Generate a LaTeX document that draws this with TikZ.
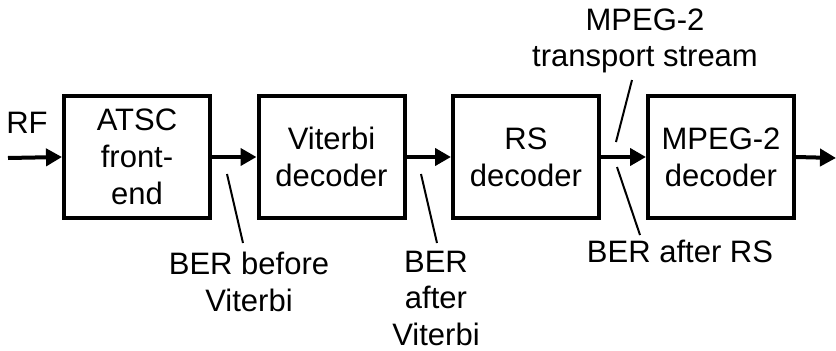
\documentclass[tikz,border=0pt]{standalone}
\usepackage{fontspec}
\setmainfont{Liberation Sans}
\usetikzlibrary{arrows.meta}
\begin{document}
\begin{tikzpicture}[x=1pt,y=-1pt,
  txt/.style={font=\fontsize{31}{37}\selectfont, align=center, inner sep=0pt},
  block/.style={draw, line width=4pt, minimum width=146pt, minimum height=122pt, txt},
  flow/.style={line width=4pt, -{Triangle[length=16pt,width=17pt]}},
  callout/.style={line width=2pt}]
\useasboundingbox (0,0) rectangle (836,351);
\node[block] (atsc) at (137,157) {ATSC\\front-\\end};
\node[block] (vit) at (331.5,157) {Viterbi\\decoder};
\node[block] (rs) at (526,157) {RS\\decoder};
\node[block] (mpeg) at (721,157) {MPEG-2\\decoder};
\coordinate (in) at (8,158);
\coordinate (out) at (836,158);
\node[txt, anchor=base] (rf) at (27,133) {RF};
\draw[flow] (in) -- (atsc.west);
\draw[flow] (atsc.east) -- (vit.west);
\draw[flow] (vit.east) -- (rs.west);
\draw[flow] (rs.east) -- (mpeg.west);
\draw[flow] (mpeg.east) -- (out);
% callouts (base anchor = baseline of the last line)
\node[txt, anchor=base] (lb1) at (249,311) {BER before\\Viterbi};
\node[txt, anchor=base, font=\fontsize{31}{36.5}\selectfont] (lb2) at (436,345) {BER\\after\\Viterbi};
\node[txt, anchor=base, font=\fontsize{31}{36}\selectfont] (lb3) at (645,66) {MPEG-2\\transport stream};
\node[txt, anchor=base] (lb4) at (680,262) {BER after RS};
\coordinate (c1a) at (227,174); \coordinate (c1b) at (243,243);
\coordinate (c2a) at (421,174); \coordinate (c2b) at (437,243);
\coordinate (c3a) at (616,142); \coordinate (c3b) at (632,80);
\coordinate (c4a) at (617,167); \coordinate (c4b) at (640,235);
\draw[callout] (c1a) -- (c1b);
\draw[callout] (c2a) -- (c2b);
\draw[callout] (c3a) -- (c3b);
\draw[callout] (c4a) -- (c4b);
\end{tikzpicture}
\end{document}
